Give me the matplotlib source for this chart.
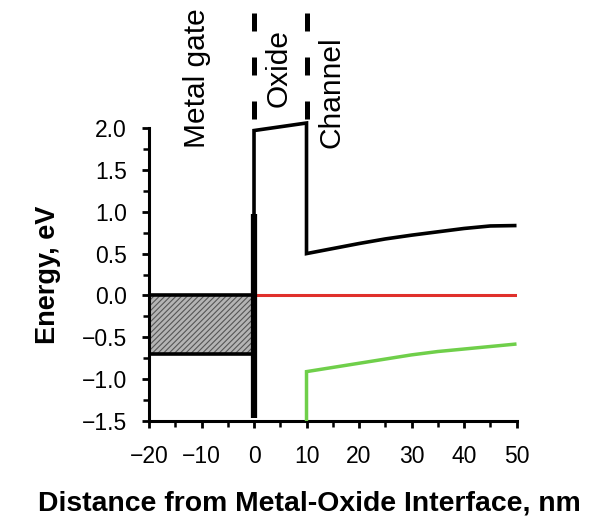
import matplotlib
matplotlib.use("Agg")
import matplotlib.pyplot as plt
from matplotlib.ticker import MultipleLocator

plt.rcParams["font.family"] = ["Liberation Sans", "DejaVu Sans"]
plt.rcParams["hatch.color"] = "#555555"
plt.rcParams["hatch.linewidth"] = 0.8

# Band diagram data (energy in eV, position in nm)
metal_x = [-20, 0]
metal_fermi = 0.0
metal_bottom = -0.70

oxide_x = [0, 10]
oxide_top = [1.97, 2.06]
gate_edge_top = 0.97

channel_x = [10, 15, 20, 25, 30, 35, 40, 45, 50]
channel_cb = [0.50, 0.56, 0.62, 0.675, 0.72, 0.76, 0.80, 0.83, 0.835]
channel_vb = [-0.91, -0.86, -0.81, -0.76, -0.71, -0.67, -0.64, -0.61, -0.58]
fermi_x = [0, 50]
fermi_y = [0.0, 0.0]

region_labels = ["Metal gate", "Oxide", "Channel"]
region_label_x = [-10.9, 4.7, 14.7]
region_label_y = [1.76, 2.25, 1.76]
boundary_x = [0, 10]

fig = plt.figure(figsize=(6.16, 5.26), dpi=100)
ax = fig.add_axes([0.2419, 0.1996, 0.5966, 0.557])

ymin, ymax = -1.5, 2.0

# metal gate: filled states below the Fermi level
ax.fill_between(metal_x, metal_bottom, metal_fermi, facecolor="#b4b4b4",
                edgecolor="#555555", hatch="//////", linewidth=0, zorder=1)
ax.plot(metal_x, [metal_fermi, metal_fermi], color="black", lw=2.6, zorder=3)
ax.plot(metal_x, [metal_bottom, metal_bottom], color="black", lw=2.6, zorder=3)

# gate electrode edge
ax.plot([0, 0], [ymin + 0.04, gate_edge_top], color="black", lw=4.5,
        solid_capstyle="butt", zorder=4)

# oxide barrier joined to the channel conduction band
cb_x = [0, 0, oxide_x[1], 10] + channel_x
cb_y = [gate_edge_top, oxide_top[0], oxide_top[1], channel_cb[0]] + channel_cb
ax.plot(cb_x, cb_y, color="black", lw=2.6, zorder=4, clip_on=False,
        solid_joinstyle="miter", solid_capstyle="butt")

# Fermi level in oxide/channel
ax.plot(fermi_x, fermi_y, color="#e0302c", lw=2.2, zorder=2)

# channel valence band
vb_x = [10] + channel_x
vb_y = [ymin] + channel_vb
ax.plot(vb_x, vb_y, color="#6fcf4a", lw=2.5, zorder=4,
        solid_joinstyle="miter", solid_capstyle="butt")

# region boundaries above the plot
for bx in boundary_x:
    ax.plot([bx, bx], [3.37, 2.05], color="black", lw=3.6,
            linestyle=(0, (3.6, 5.2)), dash_capstyle="butt",
            clip_on=False, zorder=5)

for lbl, lx, ly in zip(region_labels, region_label_x, region_label_y):
    ax.text(lx, ly, lbl, rotation=90, ha="center", va="bottom",
            fontsize=21.5, clip_on=False)

ax.set_xlim(-20, 50)
ax.set_ylim(ymin, ymax)
ax.set_xticks([-20, -10, 0, 10, 20, 30, 40, 50])
ax.set_yticks([-1.5, -1.0, -0.5, 0.0, 0.5, 1.0, 1.5, 2.0])
ax.set_xticklabels(["\u221220", "\u221210", "0", "10", "20", "30", "40", "50"])
ax.set_yticklabels(["\u22121.5", "\u22121.0", "\u22120.5", "0.0", "0.5", "1.0", "1.5", "2.0"])
ax.xaxis.set_minor_locator(MultipleLocator(5))
ax.yaxis.set_minor_locator(MultipleLocator(0.25))

for s in ("top", "right"):
    ax.spines[s].set_visible(False)
for s in ("left", "bottom"):
    ax.spines[s].set_linewidth(2.2)

ax.tick_params(which="major", direction="out", length=5, width=2.0,
               labelsize=16.5)
ax.tick_params(axis="x", which="major", pad=12)
ax.tick_params(axis="y", which="major", pad=11)
ax.tick_params(which="minor", direction="out", length=4, width=1.8)

ax.set_xlabel("Distance from Metal-Oxide Interface, nm", fontsize=20.4,
              fontweight="bold", va="center")
ax.set_ylabel("Energy, eV", fontsize=19.5, fontweight="bold", va="center")
ax.xaxis.set_label_coords(0.435, -0.28)
ax.yaxis.set_label_coords(-0.275, 0.5)

fig.savefig("out.png", dpi=100)
